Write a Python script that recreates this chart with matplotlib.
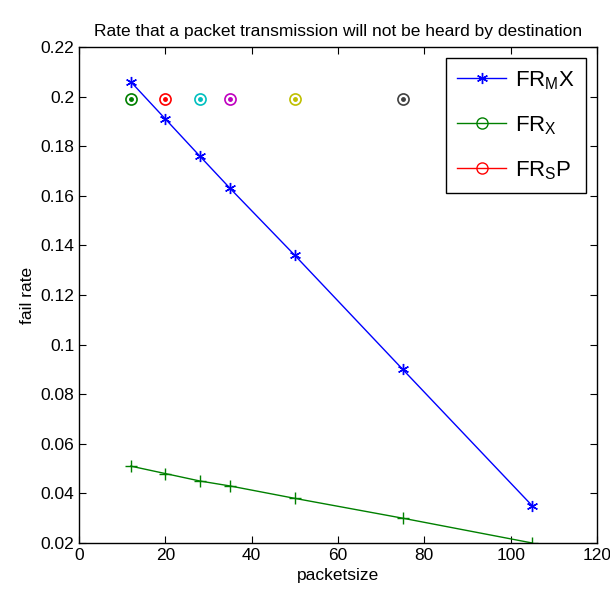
import matplotlib
matplotlib.use("Agg")
import matplotlib.pyplot as plt
from matplotlib.lines import Line2D

plt.rcParams['font.family'] = ['Liberation Sans', 'DejaVu Sans']
plt.rcParams['mathtext.fontset'] = 'custom'
plt.rcParams['mathtext.rm'] = 'Liberation Sans'
plt.rcParams['mathtext.it'] = 'Liberation Sans'

packetsize = [12, 20, 28, 35, 50, 75, 105]
fr_mx = [0.206, 0.191, 0.176, 0.163, 0.136, 0.090, 0.035]
fr_x = [0.051, 0.048, 0.045, 0.043, 0.038, 0.030, 0.020]
circle_x = [12, 20, 28, 35, 50, 75]
circle_y = [0.199, 0.199, 0.199, 0.199, 0.199, 0.199]
circle_colors = ['#008000', '#ff0000', '#00bfbf', '#bf00bf', '#bfbf00', '#404040']
yticks = [0.02, 0.04, 0.06, 0.08, 0.1, 0.12, 0.14, 0.16, 0.18, 0.2, 0.22]
ytick_labels = ['0.02', '0.04', '0.06', '0.08', '0.1', '0.12', '0.14', '0.16', '0.18', '0.2', '0.22']
xticks = [0, 20, 40, 60, 80, 100, 120]

fig = plt.figure(figsize=(6.1, 6.03), dpi=100)
ax = fig.add_axes([0.1295, 0.0995, 0.8492, 0.8225])

ax.plot(packetsize, fr_mx, color='#0000ff', lw=1, marker=(6, 2, 0), ms=8, mew=1)
ax.plot(packetsize, fr_x, color='#008000', lw=1, marker='+', ms=9, mew=1)
for cx, cy, cc in zip(circle_x, circle_y, circle_colors):
    ax.plot([cx], [cy], marker='o', ms=8, mfc='none', mec=cc, mew=1.2, ls='none')
    ax.plot([cx], [cy], marker='o', ms=2.5, mfc=cc, mec=cc, ls='none')

ax.set_xlim(0, 120)
ax.set_ylim(0.02, 0.22)
ax.set_xticks(xticks)
ax.set_yticks(yticks)
ax.set_yticklabels(ytick_labels)
ax.tick_params(direction='in', top=True, right=True, labelsize=12.5, length=5)
for s in ax.spines.values():
    s.set_linewidth(1)

ax.set_title('Rate that a packet transmission will not be heard by destination', fontsize=12.5, pad=8)
ax.set_xlabel('packetsize', fontsize=12.5)
ax.set_ylabel('fail rate', fontsize=12.5)

handles = [
    Line2D([], [], color='#0000ff', lw=1, marker=(6, 2, 0), ms=8),
    Line2D([], [], color='#008000', lw=1, marker='o', ms=8, mfc='none'),
    Line2D([], [], color='#ff0000', lw=1, marker='o', ms=8, mfc='none'),
]
labels = [r'FR$_\mathrm{M}$X', r'FR$_\mathrm{X}$', r'FR$_\mathrm{S}$P']
leg = ax.legend(handles, labels, loc='upper right', fontsize=16, fancybox=False,
                edgecolor='black', framealpha=1, handlelength=2.2, borderaxespad=0.5,
                labelspacing=1.0, handletextpad=0.4, borderpad=0.5)
leg.get_frame().set_linewidth(1)

fig.savefig('out.png', dpi=100)
